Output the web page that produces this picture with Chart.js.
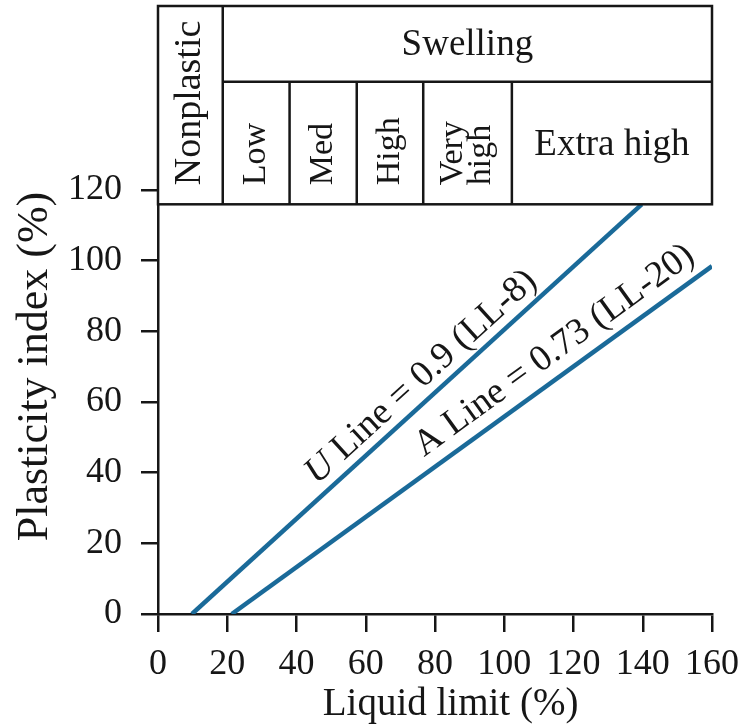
<!DOCTYPE html>
<html>
<head>
<meta charset="utf-8">
<script src="https://cdn.jsdelivr.net/npm/chart.js@4"></script>
<style>
  body { margin: 0; background: #fff; }
</style>
</head>
<body>
<canvas id="chart" width="741" height="727"></canvas>
<script>
// values
const xTicks = [0, 20, 40, 60, 80, 100, 120, 140, 160];
const yTicks = [0, 20, 40, 60, 80, 100, 120];
const uLineLL = [9.8, 139.7];
const uLinePI = [0, 115.9];
const aLineLL = [21.3, 160];
const aLinePI = [0, 98.4];
const swellBreaks = [18.7, 38, 57.4, 76.6, 102.2];   // LL where the header cells split
const headerRows = [115.9, 150.6];                     // PI of header row lines
const classes = ['Low', 'Med', 'High', 'Very\nhigh', 'Extra high'];
const xTitle = 'Liquid limit (%)';
const yTitle = 'Plasticity index (%)';

const ink = '#161616';
const blue = '#1a6a99';
const serif = "'Liberation Serif', 'DejaVu Serif', serif";

const toPoints = (xs, ys) => xs.map((x, i) => ({ x: x, y: ys[i] }));

const headerTable = {
    id: 'headerTable',
    afterDatasetsDraw(chart) {
        const { ctx, chartArea: area, scales: { x, y } } = chart;
        const bottom = y.getPixelForValue(headerRows[0]);
        const mid = y.getPixelForValue(headerRows[1]);
        const top = area.top;
        const cols = [area.left].concat(swellBreaks.map(v => x.getPixelForValue(v)), [area.right]);

        ctx.save();
        ctx.fillStyle = '#fff';
        ctx.fillRect(area.left, top, area.right - area.left, bottom - top);
        ctx.strokeStyle = ink;
        ctx.lineWidth = 2.5;
        ctx.strokeRect(area.left, top, area.right - area.left, bottom - top);
        ctx.beginPath();
        ctx.moveTo(cols[1], mid);
        ctx.lineTo(area.right, mid);
        ctx.moveTo(cols[1], top);
        ctx.lineTo(cols[1], bottom);
        for (let i = 2; i < cols.length - 1; i++) {
            ctx.moveTo(cols[i], mid);
            ctx.lineTo(cols[i], bottom);
        }
        ctx.stroke();

        ctx.fillStyle = ink;
        ctx.textBaseline = 'middle';
        ctx.textAlign = 'center';
        ctx.font = '37px ' + serif;
        ctx.fillText('Swelling', (cols[1] + area.right) / 2, (top + mid) / 2 + 1);

        const vertical = (txt, cx, size) => {
            ctx.save();
            ctx.translate(cx, bottom - 19);
            ctx.rotate(-Math.PI / 2);
            ctx.textAlign = 'left';
            ctx.font = size + 'px ' + serif;
            ctx.fillText(txt, 0, 0);
            ctx.restore();
        };
        vertical('Nonplastic', (cols[0] + cols[1]) / 2, 38);
        classes.forEach((name, i) => {
            const cx = (cols[i + 1] + cols[i + 2]) / 2;
            if (i === classes.length - 1) {
                ctx.font = '37px ' + serif;
                ctx.fillText(name, cx, (mid + bottom) / 2 + 2);
            } else if (name.includes('\n')) {
                const parts = name.split('\n');
                vertical(parts[0], cx - 14, 34);
                vertical(parts[1], cx + 14, 34);
            } else {
                vertical(name, cx, 34);
            }
        });
        ctx.restore();
    }
};

const lineLabels = {
    id: 'lineLabels',
    afterDatasetsDraw(chart) {
        const { ctx, scales: { x, y } } = chart;
        const draw = (lead, rest, xs, ys, at) => {
            const dx = x.getPixelForValue(xs[1]) - x.getPixelForValue(xs[0]);
            const dy = y.getPixelForValue(ys[1]) - y.getPixelForValue(ys[0]);
            ctx.save();
            ctx.translate(x.getPixelForValue(at[0]), y.getPixelForValue(at[1]));
            ctx.rotate(Math.atan2(dy, dx));
            ctx.fillStyle = ink;
            ctx.textBaseline = 'middle';
            ctx.textAlign = 'left';
            ctx.font = 'italic 37px ' + serif;
            const w1 = ctx.measureText(lead).width;
            ctx.font = '37px ' + serif;
            const w2 = ctx.measureText(rest).width;
            const start = -(w1 + w2) / 2;
            ctx.font = 'italic 37px ' + serif;
            ctx.fillText(lead, start, 0);
            ctx.font = '37px ' + serif;
            ctx.fillText(rest, start + w1, 0);
            ctx.restore();
        };
        draw('U', ' Line = 0.9 (LL-8)', uLineLL, uLinePI, [76, 67]);
        draw('', 'A Line = 0.73 (LL-20)', aLineLL, aLinePI, [114.5, 74.5]);
    }
};

// axis titles, placed where the picture has them
const axisTitles = {
    id: 'axisTitles',
    afterDraw(chart) {
        const { ctx, scales: { x, y } } = chart;
        ctx.save();
        ctx.fillStyle = ink;
        ctx.textAlign = 'center';
        ctx.textBaseline = 'middle';
        ctx.font = '39px ' + serif;
        ctx.fillText(xTitle, x.getPixelForValue(84.5), 705);
        ctx.translate(35, y.getPixelForValue(70));
        ctx.rotate(-Math.PI / 2);
        ctx.font = '44px ' + serif;
        ctx.fillText(yTitle, 0, 0);
        ctx.restore();
    }
};

new Chart(document.getElementById('chart'), {
    type: 'scatter',
    data: {
        datasets: [{
            label: 'U line',
            data: toPoints(uLineLL, uLinePI),
            showLine: true,
            borderColor: blue,
            borderWidth: 4.5,
            pointRadius: 0
        }, {
            label: 'A line',
            data: toPoints(aLineLL, aLinePI),
            showLine: true,
            borderColor: blue,
            borderWidth: 4.5,
            pointRadius: 0
        }]
    },
    plugins: [headerTable, lineLabels, axisTitles],
    options: {
        responsive: false,
        animation: false,
        layout: {
            padding: { left: 0, right: 29, top: 6, bottom: 0 }
        },
        plugins: {
            legend: { display: false },
            tooltip: { enabled: false }
        },
        scales: {
            x: {
                type: 'linear',
                min: 0,
                max: 160,
                afterBuildTicks: (s) => { s.ticks = xTicks.map(v => ({ value: v })); },
                afterFit: (s) => { s.height = 113; s.paddingLeft = 0; s.paddingRight = 0; },
                ticks: {
                    color: ink,
                    padding: 11,
                    font: { family: serif, size: 36 }
                },
                grid: {
                    drawOnChartArea: false,
                    tickLength: 18,
                    color: ink,
                    lineWidth: 2.5
                },
                border: { display: true, color: ink, width: 2.5 }
            },
            y: {
                type: 'linear',
                min: 0,
                max: 172,
                afterBuildTicks: (s) => { s.ticks = yTicks.map(v => ({ value: v })); },
                afterFit: (s) => { s.width = 158; s.paddingTop = 0; s.paddingBottom = 0; },
                ticks: {
                    color: ink,
                    padding: 19,
                    font: { family: serif, size: 36 }
                },
                grid: {
                    drawOnChartArea: false,
                    tickLength: 17,
                    color: ink,
                    lineWidth: 2.5
                },
                border: { display: true, color: ink, width: 2.5 }
            }
        }
    }
});
</script>
</body>
</html>
